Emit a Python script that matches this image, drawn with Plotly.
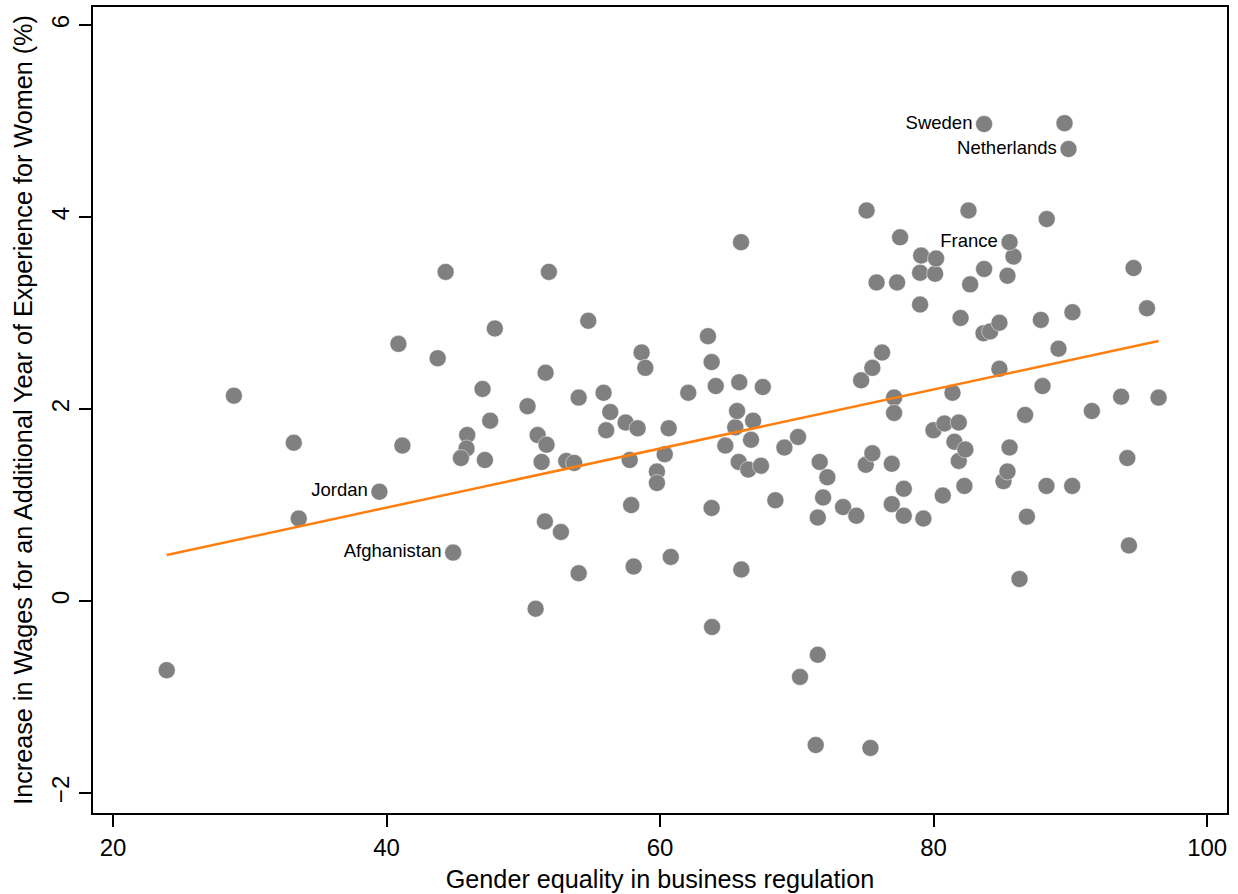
import plotly.graph_objects as go

# Gender equality in business regulation (x) vs wage increase per year of experience for women (y)
equality = [23.93, 28.84, 33.22, 33.58, 40.87, 41.16, 43.74, 44.32, 45.9, 45.85, 45.44, 47.02, 47.19,
            47.58, 47.92, 50.31, 51.05, 50.9, 51.34, 51.63, 51.87, 51.7, 51.58, 52.75, 53.14, 53.72,
            54.05, 54.05, 54.75, 55.87, 56.06, 56.36, 57.48, 57.78, 57.89, 58.07, 58.36, 58.65, 58.92,
            59.77, 59.77, 60.34, 60.63, 60.78, 62.06, 63.5, 63.77, 63.77, 63.8, 64.07, 64.77, 65.5,
            65.63, 65.75, 65.79, 65.92, 65.94, 66.45, 66.65, 66.8, 67.38, 67.51, 68.43, 69.09, 70.09,
            70.23, 71.38, 71.53, 71.53, 71.67, 71.92, 72.23, 73.38, 74.35, 74.7, 75.04, 75.1, 75.38,
            75.52, 75.52, 75.83, 76.23, 76.94, 76.94, 77.11, 77.11, 77.33, 77.55, 77.82, 77.82, 79.01,
            79.01, 79.09, 79.25, 79.99, 80.11, 80.18, 80.67, 80.79, 81.38, 81.52, 81.84, 81.84, 81.97,
            82.25, 82.32, 82.55, 82.67, 83.65, 83.69, 84.13, 84.81, 84.81, 85.11, 85.4, 85.4, 85.55,
            85.84, 86.28, 86.69, 86.82, 87.84, 87.96, 88.27, 88.25, 89.13, 89.57, 90.15, 90.13, 91.57,
            93.71, 94.16, 94.28, 94.62, 95.6, 96.45]
wage_increase = [-0.72, 2.14, 1.65, 0.86, 2.68, 1.62, 2.53, 3.43, 1.73, 1.59, 1.49, 2.21, 1.47,
                 1.88, 2.84, 2.03, 1.73, -0.08, 1.45, 2.38, 3.43, 1.63, 0.83, 0.72, 1.46, 1.44,
                 2.12, 0.29, 2.92, 2.17, 1.78, 1.97, 1.86, 1.47, 1.00, 0.36, 1.80, 2.59, 2.43,
                 1.35, 1.23, 1.53, 1.80, 0.46, 2.17, 2.76, 2.49, 0.97, -0.27, 2.24, 1.62, 1.81,
                 1.98, 1.45, 2.28, 3.74, 0.33, 1.37, 1.68, 1.88, 1.41, 2.23, 1.05, 1.60, 1.71,
                 -0.79, -1.50, -0.56, 0.87, 1.45, 1.08, 1.29, 0.98, 0.89, 2.30, 1.42, 4.07, -1.53,
                 2.43, 1.54, 3.32, 2.59, 1.43, 1.01, 2.12, 1.96, 3.32, 3.79, 1.17, 0.89, 3.09,
                 3.42, 3.60, 0.86, 1.78, 3.41, 3.57, 1.10, 1.85, 2.17, 1.66, 1.86, 1.46, 2.95,
                 1.20, 1.58, 4.07, 3.30, 2.79, 3.46, 2.81, 2.90, 2.42, 1.25, 1.35, 3.39, 1.60,
                 3.59, 0.23, 1.94, 0.88, 2.93, 2.24, 3.98, 1.20, 2.63, 4.98, 3.01, 1.20, 1.98,
                 2.13, 1.49, 0.58, 3.47, 3.05, 2.12]

# Labelled countries
label_names = ["Jordan", "Afghanistan", "Sweden", "Netherlands", "France"]
label_x = [39.48, 44.87, 83.69, 89.86, 85.55]
label_y = [1.14, 0.505, 4.97, 4.71, 3.74]

# Fitted line endpoints
fit_x = [23.93, 96.45]
fit_y = [0.48, 2.71]

# Axis ticks
x_ticks = [20, 40, 60, 80, 100]
y_ticks = [-2, 0, 2, 4, 6]

FONT = "Liberation Sans, Arial, sans-serif"
GRAY = "#808080"

fig = go.Figure()
fig.add_trace(go.Scatter(
    x=equality, y=wage_increase, mode="markers",
    marker=dict(size=17, color=GRAY, line=dict(width=0.6, color="rgba(255,255,255,0.8)")),
    showlegend=False, hoverinfo="x+y"))
fig.add_trace(go.Scatter(
    x=label_x, y=label_y, mode="markers+text", text=label_names,
    textposition="middle left",
    textfont=dict(family=FONT, size=18.5, color="black"),
    marker=dict(size=17, color=GRAY, line=dict(width=0.6, color="rgba(255,255,255,0.8)")),
    showlegend=False))
fig.add_trace(go.Scatter(
    x=fit_x, y=fit_y, mode="lines",
    line=dict(color="#ff7f0e", width=2.5), showlegend=False, hoverinfo="skip"))

axis_common = dict(
    showgrid=False, zeroline=False, showline=True, mirror=True, automargin=False,
    linecolor="black", linewidth=2, ticks="outside", ticklen=12, tickwidth=1.5,
    tickcolor="black", tickfont=dict(family=FONT, size=24, color="black"))

fig.update_layout(
    width=1238, height=894,
    margin=dict(l=93, r=11, t=7, b=81),
    paper_bgcolor="white", plot_bgcolor="white",
    font=dict(family=FONT, color="black"),
    xaxis=dict(range=[18.54, 101.45], tickvals=x_ticks,
               title=dict(text="Gender equality in business regulation",
                          font=dict(family=FONT, size=25.2, color="black"), standoff=11),
               **axis_common),
    yaxis=dict(range=[-2.208, 6.19], tickvals=y_ticks, tickangle=-90,
               title=dict(text="Increase in Wages for an Additional Year of Experience for Women (%)",
                          font=dict(family=FONT, size=25.2, color="black"), standoff=8),
               **axis_common),
)

fig.write_html("out.html", config={"displayModeBar": False},
               post_script="document.body.style.margin='0';document.body.style.overflow='hidden';")
